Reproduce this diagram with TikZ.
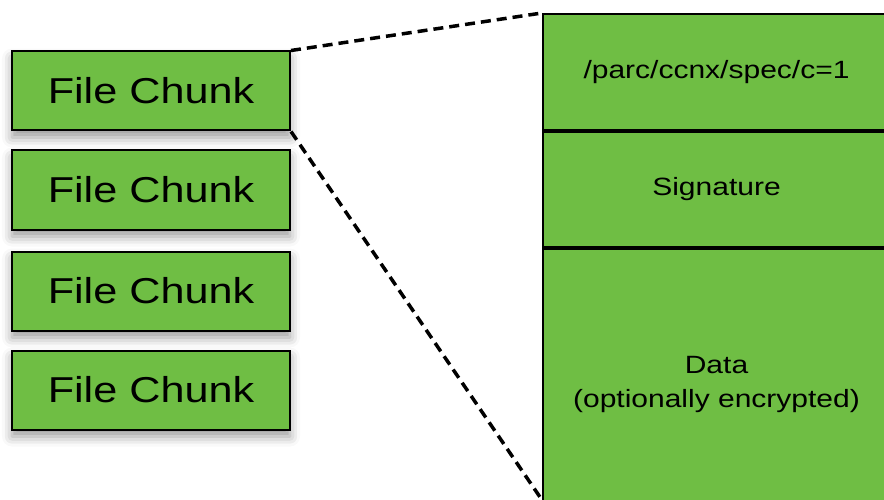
\documentclass[tikz,border=0pt]{standalone}
\usepackage{fontspec}
\newfontfamily\keyfont[FakeStretch=1.2]{Liberation Sans}
\usetikzlibrary{shadows.blur,calc}
\definecolor{chunkgreen}{RGB}{111,190,68}
\tikzset{
  chunk/.style={draw=black, line width=2pt, fill=chunkgreen,
    minimum width=278pt, minimum height=79pt, inner sep=0pt,
    font=\keyfont\fontsize{36}{40}\selectfont,
    blur shadow={shadow xshift=0pt, shadow yshift=-7pt,
      shadow blur radius=10pt, shadow opacity=40}},
  field/.style={draw=black, line width=2pt, fill=chunkgreen,
    minimum width=347pt, inner sep=0pt, align=center,
    font=\keyfont\fontsize{25}{34}\selectfont},
  zoomline/.style={draw=black, line width=3.5pt, dash pattern=on 10pt off 6pt}
}
\begin{document}
\begin{tikzpicture}[x=1pt,y=-1pt]
  \useasboundingbox (0,0) rectangle (884,500);
  % the four chunks of the file
  \node[chunk] (c1) at (151,91)  {File Chunk};
  \node[chunk] (c2) at (151,190) {File Chunk};
  \node[chunk] (c3) at (151,291) {File Chunk};
  \node[chunk] (c4) at (151,390) {File Chunk};
  % layout of one chunk
  \node[field, minimum height=116pt] (name) at (716.5,72) {/parc/ccnx/spec/c=1};
  \node[field, minimum height=115pt, anchor=north] (sig) at (name.south) {Signature};
  \node[field, minimum height=270pt, anchor=north] (data) at (sig.south)
    {\raisebox{-6pt}{\parbox{330pt}{\centering Data\\(optionally encrypted)}}};
  \path (data.west |- 0,500) coordinate (dend);
  % zoom lines from the first chunk to its layout
  \draw[zoomline] (c1.north east) -- (name.north west);
  \draw[zoomline] (c1.south east) -- (dend);
\end{tikzpicture}
\end{document}
